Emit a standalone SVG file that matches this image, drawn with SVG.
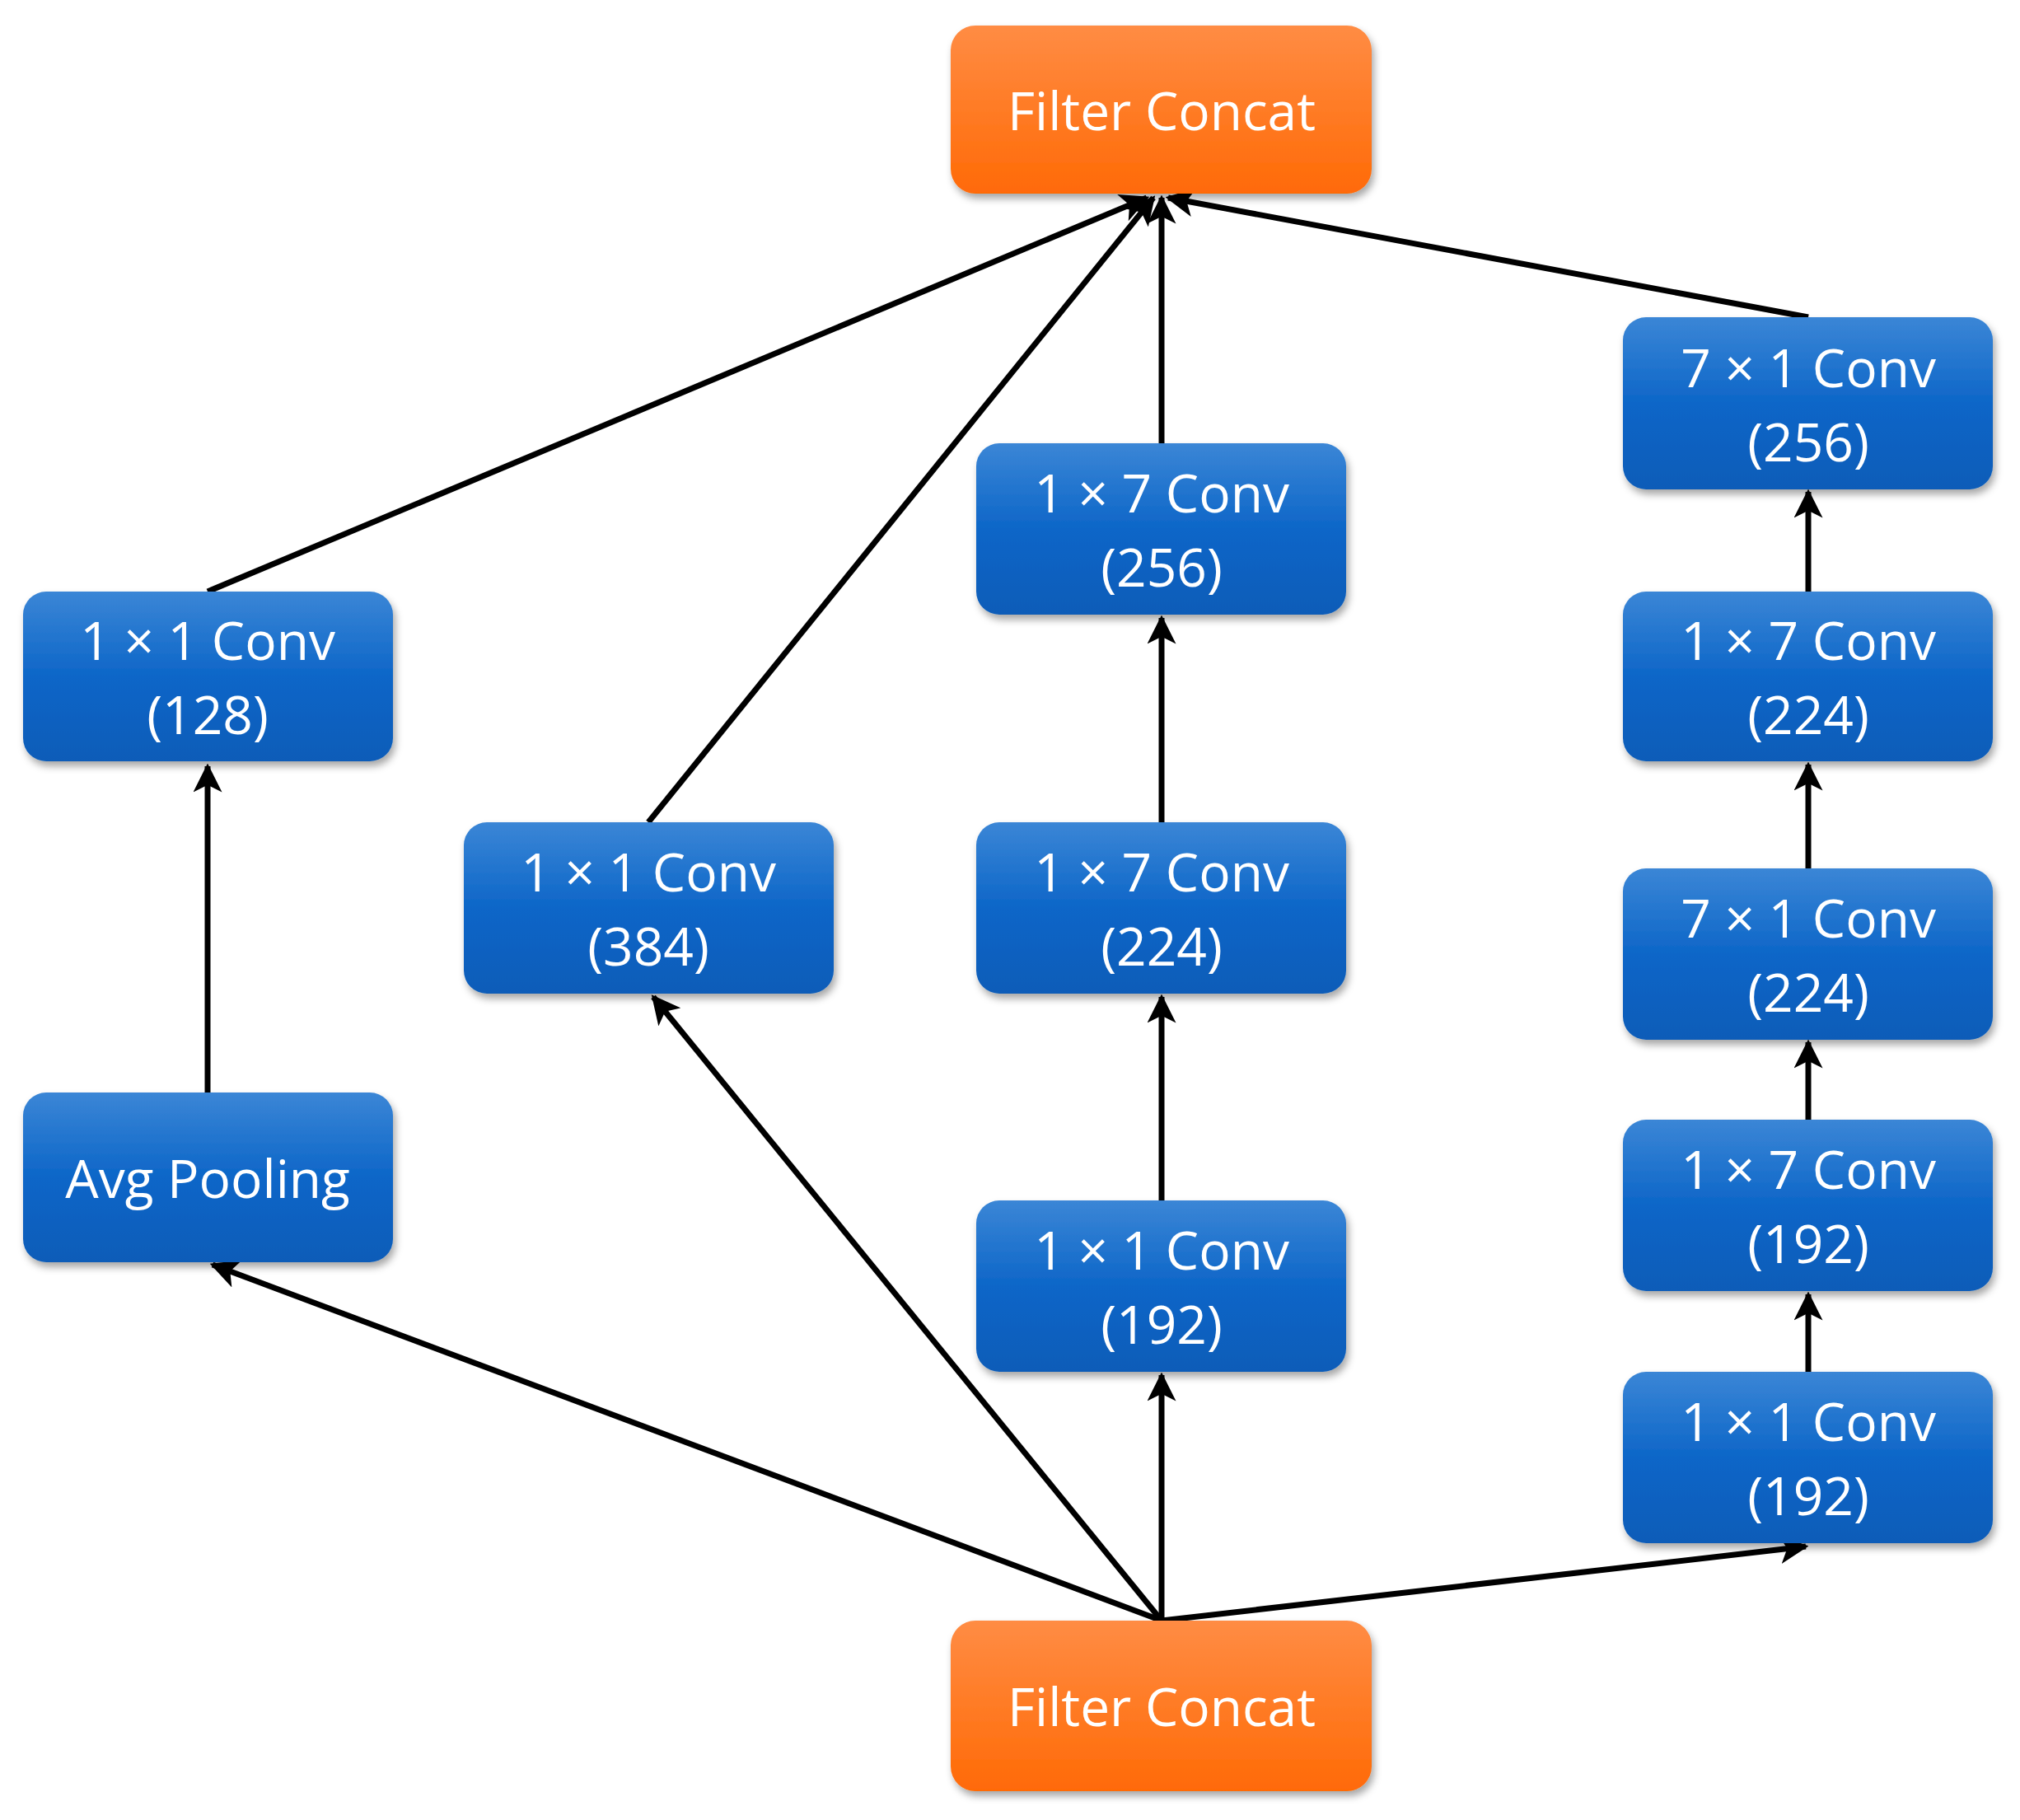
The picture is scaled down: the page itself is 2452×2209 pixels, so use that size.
<svg xmlns="http://www.w3.org/2000/svg" width="2452" height="2209" viewBox="0 0 2452 2209">
<defs>
<linearGradient id="gb" x1="0" y1="0" x2="0" y2="1"><stop offset="0" stop-color="#3b86d6"/><stop offset="0.5" stop-color="#0d66c8"/><stop offset="1" stop-color="#0a5cb8"/></linearGradient>
<linearGradient id="go" x1="0" y1="0" x2="0" y2="1"><stop offset="0" stop-color="#ff8c44"/><stop offset="1" stop-color="#ff6a06"/></linearGradient>
<filter id="sh" x="-10%" y="-10%" width="120%" height="130%"><feDropShadow dx="3" dy="6" stdDeviation="5" flood-color="#000" flood-opacity="0.35"/></filter>
<marker id="ah" viewBox="0 0 10 10" refX="9" refY="5" markerWidth="5" markerHeight="5" orient="auto" markerUnits="strokeWidth"><path d="M0,0 L10,5 L0,10 L2.5,5 Z" fill="#000"/></marker>
</defs>
<style>
.b{fill:url(#gb);filter:url(#sh)}
.o{fill:url(#go);filter:url(#sh)}
text{font-family:"Open Sans","Noto Sans","DejaVu Sans",sans-serif;font-size:64px;fill:#fff;text-anchor:middle;dominant-baseline:central}
.c line{stroke:#000;stroke-width:7;marker-end:url(#ah)}
</style>
<rect width="2452" height="2209" fill="#fff"/>
<g class="c">
<line x1="252" y1="1326" x2="252" y2="930"/>
<line x1="252" y1="718" x2="1392" y2="240"/>
<line x1="787" y1="998" x2="1400" y2="240"/>
<line x1="1410" y1="538" x2="1410" y2="240"/>
<line x1="2195" y1="385" x2="1418" y2="240"/>
<line x1="1410" y1="998" x2="1410" y2="750"/>
<line x1="1410" y1="1457" x2="1410" y2="1210"/>
<line x1="1410" y1="1967" x2="1410" y2="1669"/>
<line x1="1410" y1="1967" x2="258" y2="1535"/>
<line x1="1410" y1="1967" x2="793" y2="1210"/>
<line x1="1410" y1="1967" x2="2192" y2="1877"/>
<line x1="2195" y1="718" x2="2195" y2="597"/>
<line x1="2195" y1="1054" x2="2195" y2="928"/>
<line x1="2195" y1="1359" x2="2195" y2="1265"/>
<line x1="2195" y1="1665" x2="2195" y2="1571"/>
</g>
<g id="concat_top"><rect class="o" x="1154" y="31" width="511" height="204" rx="30"/><text x="1410" y="133">Filter Concat</text></g>
<g id="concat_bottom"><rect class="o" x="1154" y="1967" width="511" height="207" rx="30"/><text x="1410" y="2070">Filter Concat</text></g>
<g id="conv128"><rect class="b" x="28" y="718" width="449" height="206" rx="28"/><text x="252" y="776">1 × 1 Conv</text><text x="252" y="866">(128)</text></g>
<g id="avgpool"><rect class="b" x="28" y="1326" width="449" height="206" rx="28"/><text x="252" y="1429">Avg Pooling</text></g>
<g id="conv384"><rect class="b" x="563" y="998" width="449" height="208" rx="28"/><text x="787" y="1057">1 × 1 Conv</text><text x="787" y="1147">(384)</text></g>
<g id="m256"><rect class="b" x="1185" y="538" width="449" height="208" rx="28"/><text x="1410" y="597">1 × 7 Conv</text><text x="1410" y="687">(256)</text></g>
<g id="m224"><rect class="b" x="1185" y="998" width="449" height="208" rx="28"/><text x="1410" y="1057">1 × 7 Conv</text><text x="1410" y="1147">(224)</text></g>
<g id="m192"><rect class="b" x="1185" y="1457" width="449" height="208" rx="28"/><text x="1410" y="1516">1 × 1 Conv</text><text x="1410" y="1606">(192)</text></g>
<g id="r256"><rect class="b" x="1970" y="385" width="449" height="209" rx="28"/><text x="2195" y="445">7 × 1 Conv</text><text x="2195" y="535">(256)</text></g>
<g id="r224a"><rect class="b" x="1970" y="718" width="449" height="206" rx="28"/><text x="2195" y="776">1 × 7 Conv</text><text x="2195" y="866">(224)</text></g>
<g id="r224b"><rect class="b" x="1970" y="1054" width="449" height="208" rx="28"/><text x="2195" y="1113">7 × 1 Conv</text><text x="2195" y="1203">(224)</text></g>
<g id="r192a"><rect class="b" x="1970" y="1359" width="449" height="208" rx="28"/><text x="2195" y="1418">1 × 7 Conv</text><text x="2195" y="1508">(192)</text></g>
<g id="r192b"><rect class="b" x="1970" y="1665" width="449" height="208" rx="28"/><text x="2195" y="1724">1 × 1 Conv</text><text x="2195" y="1814">(192)</text></g>
</svg>
